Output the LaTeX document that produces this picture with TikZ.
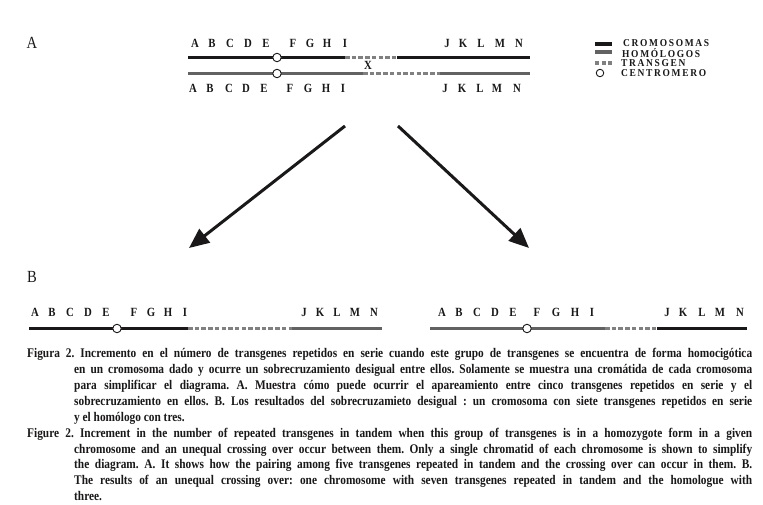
\documentclass[tikz,border=0pt]{standalone}
\usepackage{fontspec}
\setmainfont{Liberation Serif}
\newfontfamily\condfont[FakeStretch=0.86]{Liberation Serif}
\newfontfamily\legfont[FakeStretch=0.9,LetterSpace=16]{Liberation Serif}
\usetikzlibrary{arrows.meta}
\definecolor{chrblack}{HTML}{1A1818}
\definecolor{chrgrey}{HTML}{636262}
\definecolor{tgrey}{HTML}{808080}
\frenchspacing
\begin{document}
\begin{tikzpicture}[x=1pt,y=-1pt,
  chrA/.style={line width=3.5pt,chrblack},
  chrB/.style={line width=3.5pt,chrgrey},
  tg/.style={line width=3.5pt,tgrey,dash pattern=on 4.5pt off 2.2pt},
  cen/.style={circle,draw=chrblack,fill=white,line width=0.9pt,minimum size=8.5pt,inner sep=0pt},
  lett/.style={font=\condfont\bfseries\fontsize{12.5}{14}\selectfont,inner sep=0pt,anchor=base,text=chrblack},
  sect/.style={font=\condfont\fontsize{17}{20}\selectfont,inner sep=0pt,anchor=base,text=chrblack},
  leg/.style={font=\legfont\bfseries\fontsize{10.5}{12}\selectfont,inner sep=0pt,anchor=base west,text=chrblack},
  arr/.style={line width=3pt,chrblack,-{Triangle[length=20pt,width=17pt]}},
  capt/.style={font=\condfont\bfseries\fontsize{13.2}{15.85}\selectfont,inner sep=0pt,anchor=north west,text width=725pt,align=justify,text=chrblack}]
\useasboundingbox (0,0) rectangle (763,505);
\fill[white] (0,0) rectangle (763,505);

% ---------- A ----------
\node[sect] (labA) at (32,49) {A};
% top chromosome (black)
\coordinate (t0) at (188,57.5); \coordinate (t1) at (345,57.5);
\coordinate (t2) at (397,57.5); \coordinate (t3) at (530,57.5);
\draw[chrA] (t0) -- (t1);
\draw[tg] (t1) -- (t2);
\draw[chrA] (t2) -- (t3);
\node[cen] (cenT) at (277,57.5) {};
% bottom chromosome (grey)
\coordinate (b0) at (188,73.5); \coordinate (b1) at (363,73.5);
\coordinate (b2) at (440,73.5); \coordinate (b3) at (530,73.5);
\draw[chrB] (b0) -- (b1);
\draw[tg] (b1) -- (b2);
\draw[chrB] (b2) -- (b3);
\node[cen] (cenB) at (277,73.5) {};
\node[lett] (cross) at (368,69.5) {X};
\foreach \l/\x in {A/195,B/212,C/230,D/248,E/266,F/293,G/310,H/327,I/345,J/447,K/463,L/481,M/500,N/519}
  \node[lett] (top\l) at (\x,47.5) {\l};
\foreach \l/\x in {A/193,B/210,C/229,D/246,E/264,F/290,G/308,H/326,I/343,J/445,K/462,L/480,M/497,N/517}
  \node[lett] (bot\l) at (\x,92.5) {\l};

% legend
\coordinate (l1a) at (595,44); \coordinate (l1b) at (612,44);
\draw[line width=4pt,chrblack] (l1a) -- (l1b);
\coordinate (l2a) at (595,52); \coordinate (l2b) at (612,52);
\draw[line width=4pt,chrgrey] (l2a) -- (l2b);
\coordinate (l3a) at (595,63); \coordinate (l3b) at (612,63);
\draw[line width=3.5pt,tgrey,dash pattern=on 4pt off 2.5pt] (l3a) -- (l3b);
\node[cen,minimum size=7.5pt] (legcen) at (600,73) {};
\node[leg] (legt1) at (623,46.8) {CROMOSOMAS};
\node[leg] (legt2) at (622,57.8) {HOMÓLOGOS};
\node[leg] (legt3) at (621,66.8) {TRANSGEN};
\node[leg] (legt4) at (621,76.8) {CENTROMERO};

% arrows
\coordinate (a1s) at (345,126); \coordinate (a1e) at (189,248);
\coordinate (a2s) at (398,126); \coordinate (a2e) at (529,248);
\draw[arr] (a1s) -- (a1e);
\draw[arr] (a2s) -- (a2e);

% ---------- B ----------
\node[sect] (labB) at (32,282) {B};
\coordinate (p0) at (29,328.5); \coordinate (p1) at (188,328.5);
\coordinate (p2) at (292,328.5); \coordinate (p3) at (382,328.5);
\draw[chrA] (p0) -- (p1);
\draw[tg] (p1) -- (p2);
\draw[chrB] (p2) -- (p3);
\node[cen] (cenL) at (117,328.5) {};
\foreach \l/\x in {A/35,B/52,C/70,D/88,E/106,F/134,G/151,H/168,I/185,J/304,K/320,L/337,M/355,N/374}
  \node[lett] (bl\l) at (\x,316.5) {\l};

\coordinate (q0) at (430,328.5); \coordinate (q1) at (605,328.5);
\coordinate (q2) at (657,328.5); \coordinate (q3) at (747,328.5);
\draw[chrB] (q0) -- (q1);
\draw[tg] (q1) -- (q2);
\draw[chrA] (q2) -- (q3);
\node[cen] (cenR) at (527,328.5) {};
\foreach \l/\x in {A/442,B/459,C/477,D/495,E/513,F/537,G/556,H/575,I/592,J/667,K/683,L/702,M/720,N/740}
  \node[lett] (br\l) at (\x,316.5) {\l};

% ---------- caption ----------
\node[capt] (caption) at (27,348.5) {%
\parindent=0pt\hangindent=47pt\hangafter=1
Figura 2. Incremento en el número de transgenes repetidos en serie cuando este grupo de transgenes se encuentra de forma homocigótica\linebreak
en un cromosoma dado y ocurre un sobrecruzamiento desigual entre ellos. Solamente se muestra una cromátida de cada cromosoma\linebreak
para simplificar el diagrama. A. Muestra cómo puede ocurrir el apareamiento entre cinco transgenes repetidos en serie y el\linebreak
sobrecruzamiento en ellos. B. Los resultados del sobrecruzamieto desigual : un cromosoma con siete transgenes repetidos en serie\linebreak
y el homólogo con tres.\par
\hangindent=47pt\hangafter=1
Figure 2. Increment in the number of repeated transgenes in tandem when this group of transgenes is in a homozygote form in a given\linebreak
chromosome and an unequal crossing over occur between them. Only a single chromatid of each chromosome is shown to simplify\linebreak
the diagram. A. It shows how the pairing among five transgenes repeated in tandem and the crossing over can occur in them. B.\linebreak
The results of an unequal crossing over: one chromosome with seven transgenes repeated in tandem and the homologue with\linebreak
three.\par};
\end{tikzpicture}
\end{document}
